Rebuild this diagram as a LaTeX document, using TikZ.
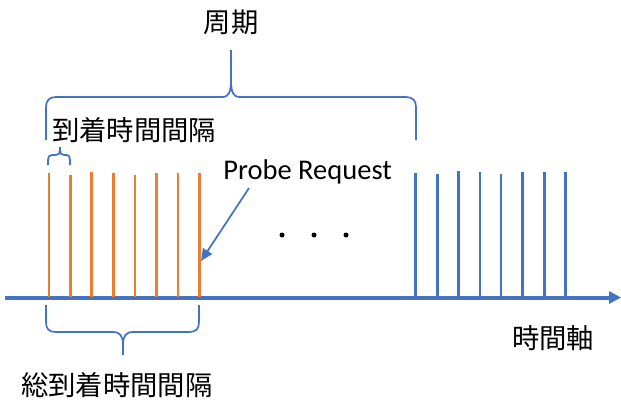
\documentclass[tikz,border=0pt]{standalone}
\usepackage{fontspec}
\setmainfont{Carlito}
\newfontfamily\jp{Noto Sans CJK JP}
\usetikzlibrary{arrows.meta}
\definecolor{axisblue}{HTML}{4472C4}
\definecolor{pulseorange}{HTML}{ED7D31}
\begin{document}
\begin{tikzpicture}[x=0.75pt,y=-0.75pt,
  jplabel/.style={inner sep=0pt,font=\jp\fontsize{20.5}{24}\selectfont},
  enlabel/.style={inner sep=0pt,font=\fontsize{21.4}{25}\selectfont},
  orangebar/.style={draw=pulseorange,line width=2.2pt},
  bluebar/.style={draw=axisblue,line width=2.2pt},
  bracket/.style={draw=axisblue,line width=1.3pt},
]
\useasboundingbox (0,0) rectangle (621,401);

% time axis
\coordinate (axstart) at (5,297.5);
\coordinate (axend) at (621,297.5);
\draw[draw=axisblue,line width=3pt,-{Triangle[length=9pt,width=9pt]}] (axstart) -- (axend);

% first burst of probe requests
\foreach \x/\t in {49/173,70.5/175,91.7/172,113.3/173,135/175,156.3/173,178/173,199.3/173}
  \draw[orangebar] (\x,\t) -- (\x,297);

% later burst
\foreach \x/\t in {415.7/173,437.3/174,458.7/171,480/172,501/174,522.7/172,544.3/172,565.7/172}
  \draw[bluebar] (\x,\t) -- (\x,297);

% ellipsis
\foreach \x in {282,314,346}
  \fill (\x,235) circle (2.5);

% period brace
\draw[bracket] (46,140) -- (46,107) .. controls (46,101) and (49,97) .. (56,97)
  -- (222,97) .. controls (229,97) and (231,92) .. (231,80) -- (231,50)
  (231,80) .. controls (231,92) and (233,97) .. (240,97)
  -- (406,97) .. controls (413,97) and (416,101) .. (416,107) -- (416,140);
\node[jplabel] (period) at (231,22) {周期};

% inter-arrival brace
\draw[bracket] (48,165) -- (48,160) .. controls (48,157) and (49,155) .. (52,155)
  -- (56,155) .. controls (59,155) and (60,153) .. (60,150) -- (60,147)
  (60,150) .. controls (60,153) and (61,155) .. (64,155)
  -- (67,155) .. controls (69,155) and (70,157) .. (70,160) -- (70,165);
\node[jplabel,anchor=west] (gap) at (52,130) {到着時間間隔};

% total duration brace
\draw[bracket] (46,305) -- (46,322) .. controls (46,329) and (49,332) .. (56,332)
  -- (113,332) .. controls (120,332) and (123,336) .. (123,345) -- (123,355)
  (123,345) .. controls (123,336) and (126,332) .. (133,332)
  -- (189,332) .. controls (196,332) and (199,329) .. (199,322) -- (199,305);
\node[jplabel,anchor=west] (total) at (21,385) {総到着時間間隔};

% axis label
\node[jplabel,anchor=west] (axislabel) at (512,338) {時間軸};

% probe request callout
\node[enlabel,anchor=west] (probe) at (223,172) {Probe Request};
\coordinate (calloutfrom) at (249,188);
\coordinate (calloutto) at (201,261);
\draw[draw=axisblue,line width=1.3pt,-{Triangle[length=9pt,width=8pt]}] (calloutfrom) -- (calloutto);
\end{tikzpicture}
\end{document}
